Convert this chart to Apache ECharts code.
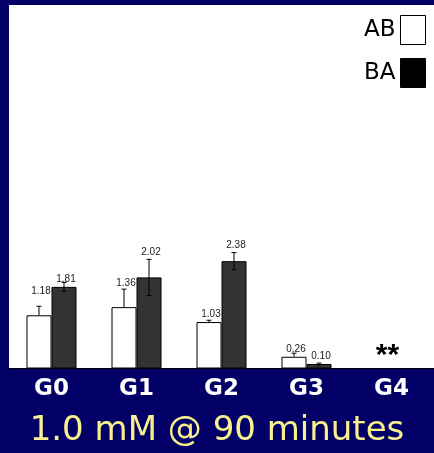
<!DOCTYPE html>
<html><head><meta charset="utf-8">
<script src="https://cdn.jsdelivr.net/npm/echarts@6/dist/echarts.min.js"></script>
<style>html,body{margin:0;padding:0;background:#020066;}#chart{width:434px;height:453px;}</style>
</head><body><div id="chart"></div>
<script>
// Groups and measured values (mean, error) for both transport directions
const groups = ['G0', 'G1', 'G2', 'G3', 'G4'];
const abValues = [1.18, 1.36, 1.03, 0.26, null];
const baValues = [1.81, 2.02, 2.38, 0.10, null];
const abErrors = [0.20, 0.40, 0.04, 0.08, null];
const baErrors = [0.10, 0.40, 0.19, 0.02, null];
const noteGroup = 'G4';
const noteText = '**';
const titleText = '1.0 mM @ 90 minutes';

// how far each value label sits above its bar (px)
const abLabelGap = [19, 19, 3, 3, 0];
const baLabelGap = [3, 20, 11, 3, 0];

const BAR_W = 25;

function barData(values, gaps) {
  return values.map((v, i) => v == null ? null : { value: v, label: { distance: gaps[i] } });
}

function errorSeries(name, values, errs, side, both) {
  const data = [];
  values.forEach((v, i) => { if (v != null) data.push([i, v, errs[i]]); });
  return {
    type: 'custom', name: name + ' err', silent: true, z: 5,
    data: data, encode: { x: 0, y: 1 },
    renderItem: function (params, api) {
      const i = api.value(0), v = api.value(1), e = api.value(2);
      const base = api.coord([i, v]);
      const x = base[0] + side * BAR_W / 2;
      const top = api.coord([i, v + e])[1];
      const bot = both ? api.coord([i, v - e])[1] : base[1];
      const c = 2.5;
      const st = { stroke: '#000', lineWidth: 1 };
      const kids = [
        { type: 'line', shape: { x1: x, y1: top, x2: x, y2: bot }, style: st },
        { type: 'line', shape: { x1: x - c, y1: top, x2: x + c, y2: top }, style: st }
      ];
      if (both) kids.push({ type: 'line', shape: { x1: x - c, y1: bot, x2: x + c, y2: bot }, style: st });
      return { type: 'group', children: kids };
    }
  };
}

const labelStyle = {
  show: true, position: 'top', offset: [2, 0],
  fontSize: 10, color: '#222', fontFamily: 'Liberation Sans',
  formatter: p => p.value.toFixed(2)
};

const chart = echarts.init(document.getElementById('chart'));
chart.setOption({
  animation: false,
  backgroundColor: '#020066',
  title: {
    text: titleText, left: 'center', top: 414, padding: [0, 0, 0, 8],
    textStyle: { color: '#f8f08c', fontSize: 34, fontWeight: 'normal', fontFamily: 'DejaVu Sans' }
  },
  legend: {
    orient: 'vertical', right: 8, top: 15, align: 'right', padding: 0,
    itemWidth: 25, itemHeight: 29, itemGap: 13, icon: 'rect',
    textStyle: { fontSize: 23, color: '#000', fontFamily: 'DejaVu Sans', padding: [0, 0, 8, 0] },
    data: [
      { name: 'AB', itemStyle: { color: '#fff', borderColor: '#000', borderWidth: 1 } },
      { name: 'BA', itemStyle: { color: '#000', borderColor: '#000', borderWidth: 1 } }
    ]
  },
  grid: { show: true, backgroundColor: '#fff', borderWidth: 0, left: 9, top: 5, width: 431, height: 363.5 },
  xAxis: {
    type: 'category', data: groups,
    axisLine: { lineStyle: { color: '#000', width: 1 } },
    axisTick: { show: false },
    axisLabel: { color: '#fff', fontWeight: 'bold', fontSize: 23, fontFamily: 'DejaVu Sans', margin: 9 }
  },
  yAxis: { type: 'value', min: 0, max: 8.06, show: false, splitLine: { show: false } },
  series: [
    {
      name: 'AB', type: 'bar', barWidth: BAR_W, barGap: '0%',
      itemStyle: { color: '#fff', borderColor: '#000', borderWidth: 1 },
      label: labelStyle, data: barData(abValues, abLabelGap)
    },
    {
      name: 'BA', type: 'bar', barWidth: BAR_W, barGap: '0%',
      itemStyle: { color: '#333', borderColor: '#000', borderWidth: 1 },
      label: labelStyle, data: barData(baValues, baLabelGap)
    },
    errorSeries('AB', abValues, abErrors, -1, false),
    errorSeries('BA', baValues, baErrors, 1, true),
    {
      type: 'custom', name: 'note', silent: true, z: 6,
      data: [[groups.indexOf(noteGroup), 0]], encode: { x: 0, y: 1 },
      renderItem: function (params, api) {
        const p = api.coord([api.value(0), api.value(1)]);
        return {
          type: 'text', x: p[0] - 4, y: p[1] - 13,
          style: { text: noteText, fill: '#000', font: 'bold 30px Liberation Sans', align: 'center', verticalAlign: 'middle' }
        };
      }
    }
  ]
});
</script>
</body></html>
